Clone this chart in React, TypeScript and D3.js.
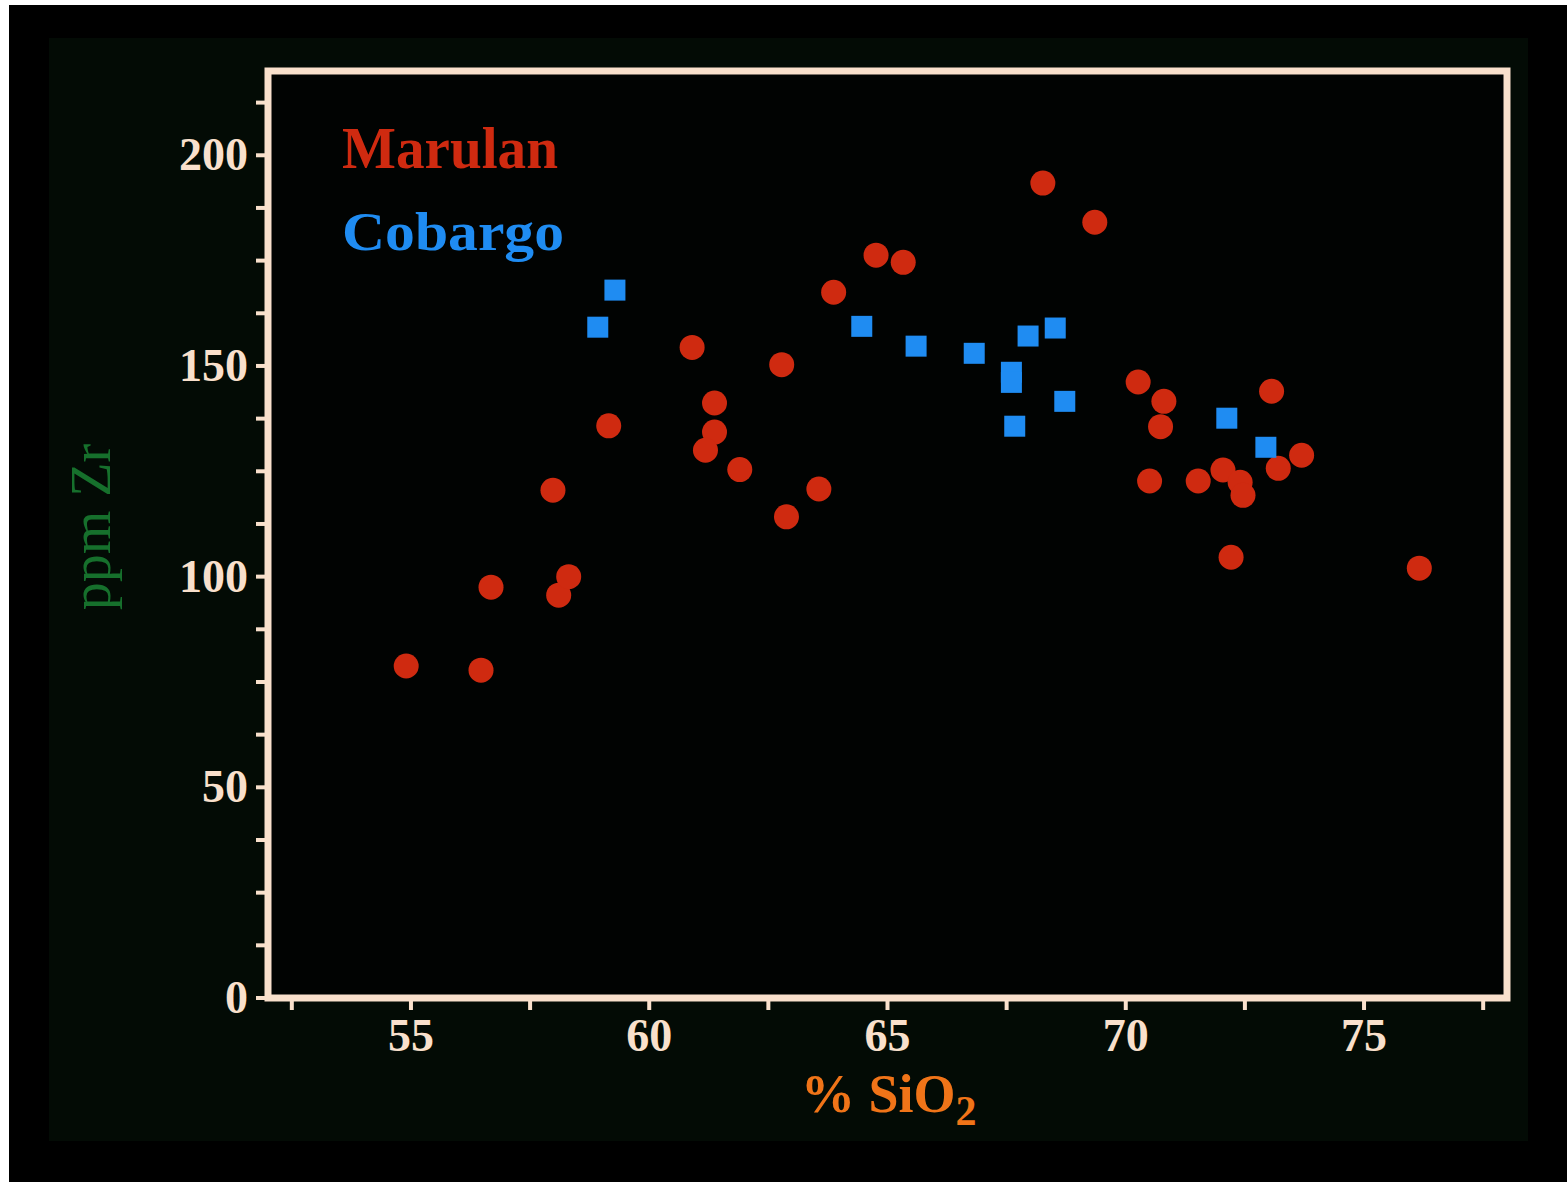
import React from "react";
import * as d3 from "d3";

const marulanSiO2 = [54.9, 56.47, 56.68, 57.98, 58.1, 58.31, 59.15, 60.9, 61.37, 61.37, 61.18, 61.9, 62.78, 62.88, 63.56, 63.87, 64.76, 65.33, 68.26, 69.35, 70.26, 70.8, 70.73, 70.5, 71.52, 72.04, 72.4, 72.46, 73.06, 73.2, 73.69, 72.21, 76.16];
const marulanZr = [78.8, 77.8, 97.5, 120.5, 95.6, 100.0, 135.8, 154.4, 141.2, 134.3, 130.0, 125.4, 150.3, 114.2, 120.8, 167.5, 176.3, 174.6, 193.4, 184.1, 146.2, 141.6, 135.6, 122.7, 122.7, 125.3, 122.4, 119.3, 144.0, 125.7, 128.8, 104.6, 102.0];

const cobargoSiO2 = [58.92, 59.28, 64.46, 65.6, 66.82, 67.6, 67.6, 67.67, 67.95, 68.52, 68.72, 72.12, 72.94];
const cobargoZr = [159.2, 168.0, 159.4, 154.7, 153.0, 148.5, 146.1, 135.7, 157.1, 159.0, 141.6, 137.6, 130.7];

const xTickLabels = [55, 60, 65, 70, 75];
const yTickLabels = [0, 50, 100, 150, 200];
const xDomain = [52, 78];
const yDomain = [0, 220];

const FRAME = "#f9e0cc";
const RED = "#cf2a10";
const BLUE = "#1f8cf2";
const FONT = "'Liberation Serif', 'DejaVu Serif', serif";

export default function App() {
  const x = d3.scaleLinear().domain(xDomain).range([268, 1507]);
  const y = d3.scaleLinear().domain(yDomain).range([998, 71]);
  const xMinor = d3.range(52.5, 78, 2.5);
  const yMinor = d3.range(0, 220, 12.5);
  const sq = 21;

  return (
    <svg width={1567} height={1182} style={{ position: "absolute", left: 0, top: 0 }}>
      <rect x={0} y={0} width={1567} height={1182} fill="#ffffff" />
      <rect x={9} y={5} width={1558} height={1177} fill="#000000" />
      <rect x={49} y={38} width={1479} height={1103} fill="#030b05" />
      <rect x={x(52)} y={y(220)} width={x(78) - x(52)} height={y(0) - y(220)} fill="#010302" />

      {xMinor.map((v) => (
        <line key={"xt" + v} x1={x(v)} x2={x(v)} y1={y(0)} y2={y(0) + 12} stroke={FRAME} strokeWidth={4} />
      ))}
      {yMinor.map((v) => (
        <line key={"yt" + v} x1={x(52) - 12} x2={x(52)} y1={y(v)} y2={y(v)} stroke={FRAME} strokeWidth={4} />
      ))}

      <rect x={x(52)} y={y(220)} width={x(78) - x(52)} height={y(0) - y(220)} fill="none" stroke={FRAME} strokeWidth={7} />

      {xTickLabels.map((v) => (
        <text key={"xl" + v} x={x(v)} y={1051} textAnchor="middle" fill={FRAME} fontFamily={FONT} fontWeight="bold" fontSize={46}>
          {v}
        </text>
      ))}
      {yTickLabels.map((v) => (
        <text key={"yl" + v} x={248} y={y(v) + 15} textAnchor="end" fill={FRAME} fontFamily={FONT} fontWeight="bold" fontSize={46}>
          {v}
        </text>
      ))}

      <text x={801} y={1112} fill="#f07418" fontFamily={FONT} fontWeight="bold" fontSize={54}>
        % SiO<tspan fontSize={42} dy={13}>2</tspan>
      </text>
      <text transform="translate(110,527) rotate(-90)" textAnchor="middle" fill="#16702c" fontFamily={FONT} fontSize={56}>
        ppm Zr
      </text>

      <text x={342} y={168} fill={RED} fontFamily={FONT} fontWeight="bold" fontSize={60} textLength={216} lengthAdjust="spacingAndGlyphs">
        Marulan
      </text>
      <text x={342} y={250} fill={BLUE} fontFamily={FONT} fontWeight="bold" fontSize={54} textLength={222} lengthAdjust="spacingAndGlyphs">
        Cobargo
      </text>

      {marulanSiO2.map((v, i) => (
        <circle key={"m" + i} cx={x(v)} cy={y(marulanZr[i])} r={12.5} fill={RED} />
      ))}
      {cobargoSiO2.map((v, i) => (
        <rect key={"c" + i} x={x(v) - sq / 2} y={y(cobargoZr[i]) - sq / 2} width={sq} height={sq} fill={BLUE} />
      ))}
    </svg>
  );
}
